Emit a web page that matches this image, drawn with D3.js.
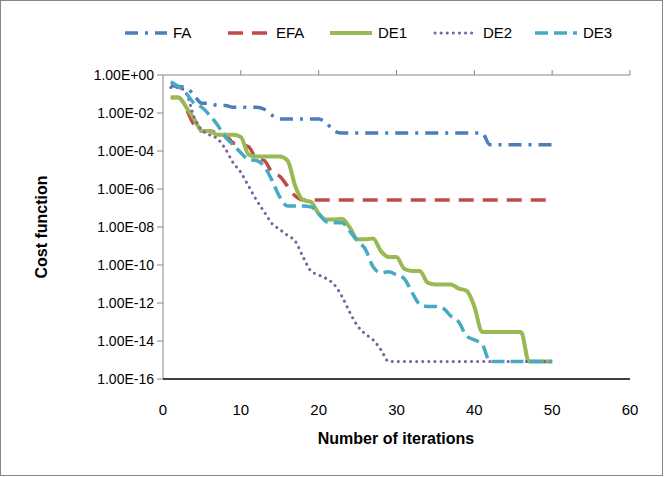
<!DOCTYPE html>
<html><head><meta charset="utf-8">
<script src="https://cdn.jsdelivr.net/npm/d3@7"></script>
<style>body{margin:0;background:#fff}svg{font-family:"Liberation Sans",Arial,sans-serif}</style>
</head><body><svg id="c" width="664" height="477"></svg>
<script>
const seriesNames = ["FA","EFA","DE1","DE2","DE3"];
const rep = (v,n)=>Array(n).fill(v);
// log10 of cost, iterations 1..50
const FA = [-0.56,-0.61,-0.66,-1.08,-1.49,-1.49,-1.6,-1.6,-1.7,-1.7,-1.7,-1.7,-1.8,-2.12,...rep(-2.32,6),-2.53,-2.95,...rep(-3.05,19),...rep(-3.67,9)];
const EFA = [-1.18,-1.18,-1.8,-2.63,-2.95,-2.95,-3.05,-3.15,-3.57,-3.67,-3.78,-4.4,-4.5,-5.12,-5.33,-5.85,-6.37,...rep(-6.58,33)];
const DE1 = [-1.18,-1.18,-1.7,-2.32,-2.95,-2.95,-3.15,-3.15,-3.15,-3.26,-4.19,-4.29,-4.29,-4.29,-4.29,-4.5,-5.85,-6.58,-6.68,-7.3,-7.61,-7.61,-7.56,-8.03,-8.65,-8.65,-8.6,-9.27,-9.58,-9.58,-10.2,-10.31,-10.31,-10.93,-11.03,-11.03,-11.03,-11.24,-11.35,-12.18,...rep(-13.52,6),...rep(-15.08,4)];
const DE2 = [-0.66,-0.66,-0.98,-2.22,-2.89,-3.15,-3.36,-3.88,-4.61,-5.12,-5.85,-6.58,-7.2,-7.82,-8.13,-8.44,-8.75,-9.58,-10.31,-10.52,-10.72,-11.03,-11.66,-12.49,-13.21,-13.63,-13.94,-14.46,...rep(-15.08,22)];
const DE3 = [-0.35,-0.61,-0.98,-1.49,-1.7,-2.12,-2.63,-3.26,-3.67,-4.09,-4.45,-4.5,-4.81,-5.54,-6.42,-6.89,-6.89,-6.89,-6.94,-7.3,-7.72,-7.77,-7.77,-8.23,-8.75,-9.17,-10.1,-10.41,-10.36,-10.52,-10.72,-11.45,-12.07,-12.18,-12.18,-12.28,-12.69,-13.0,-13.73,-13.94,-14.15,...rep(-15.08,9)];
const xTicks = [0,10,20,30,40,50,60];
const yTickExps = [0,-2,-4,-6,-8,-10,-12,-14,-16];
const yTickLabels = ["1.00E+00","1.00E-02","1.00E-04","1.00E-06","1.00E-08","1.00E-10","1.00E-12","1.00E-14","1.00E-16"];

const data = [FA,EFA,DE1,DE2,DE3];
const colors = ["#4A7EBB","#BE4B48","#98B954","#7D60A0","#46AAC5"];
const dashes = ["13,7,3,7","15,9",null,"0.1,6","13,6"];
const widths = [3.5,3.5,4,3,3.5];

const svg = d3.select("#c");
svg.append("rect").attr("x",0.5).attr("y",0.5).attr("width",662).attr("height",475).attr("fill","#fff").attr("stroke","#868686");
const L=163,R=630,T=75,B=379;
const x = d3.scaleLinear().domain([0,60]).range([L,R]);
const y = d3.scaleLog().domain([1e-16,1]).range([B,T]);

svg.append("line").attr("x1",L).attr("x2",R).attr("y1",T).attr("y2",T).attr("stroke","#868686");
xTicks.slice(1).forEach(t=>svg.append("line").attr("x1",x(t)).attr("x2",x(t)).attr("y1",T).attr("y2",T-5).attr("stroke","#868686"));
svg.append("line").attr("x1",L).attr("x2",L).attr("y1",T).attr("y2",B).attr("stroke","#868686");
yTickExps.forEach((e,i)=>{
  const yy=y(Math.pow(10,e));
  svg.append("line").attr("x1",L-6).attr("x2",L).attr("y1",yy).attr("y2",yy).attr("stroke","#868686");
  svg.append("text").attr("x",L-9).attr("y",yy).attr("dy","0.35em").attr("text-anchor","end").attr("font-size",14).attr("fill","#000").text(yTickLabels[i]);
});
svg.append("line").attr("x1",L).attr("x2",R).attr("y1",B).attr("y2",B).attr("stroke","#000").attr("stroke-width",1.5);
xTicks.forEach(t=>svg.append("text").attr("x",x(t)).attr("y",415).attr("text-anchor","middle").attr("font-size",15).text(t));

svg.append("text").attr("x",396).attr("y",444).attr("text-anchor","middle").attr("font-size",16).attr("font-weight","bold").text("Number of iterations");
svg.append("text").attr("transform","translate(47,227) rotate(-90)").attr("text-anchor","middle").attr("font-size",16).attr("font-weight","bold").text("Cost function");

const line = d3.line().x((d,i)=>x(i+1)).y(d=>y(Math.pow(10,d))).curve(d3.curveMonotoneX);
data.forEach((s,k)=>{
  svg.append("path").attr("d",line(s)).attr("fill","none").attr("stroke",colors[k]).attr("stroke-width",widths[k])
    .attr("stroke-dasharray",dashes[k]).attr("stroke-linecap",k===3?"round":"butt");
});

const lx=[125,228,330,435,535];
seriesNames.forEach((n,k)=>{
  svg.append("line").attr("x1",lx[k]).attr("x2",lx[k]+42).attr("y1",33).attr("y2",33).attr("stroke",colors[k]).attr("stroke-width",widths[k])
    .attr("stroke-dasharray",dashes[k]).attr("stroke-linecap",k===3?"round":"butt");
  svg.append("text").attr("x",lx[k]+48).attr("y",33).attr("dy","0.35em").attr("font-size",15).text(n);
});
</script></body></html>
